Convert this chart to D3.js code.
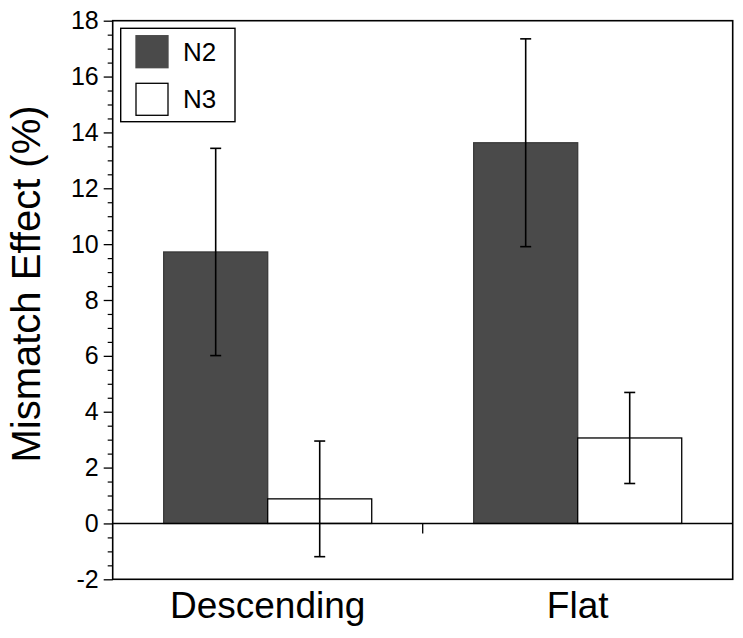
<!DOCTYPE html>
<html>
<head>
<meta charset="utf-8">
<script src="https://cdn.jsdelivr.net/npm/d3@7"></script>
<style>
  body { margin: 0; background: #fff; }
  svg { display: block; }
  text { font-family: "Liberation Sans", Arial, Helvetica, sans-serif; fill: #000; }
</style>
</head>
<body>
<svg id="chart" width="743" height="638"></svg>
<script>
const categories = ["Descending", "Flat"];
const seriesNames = ["N2", "N3"];
const n2Values = [9.72, 13.63];
const n2Errors = [3.71, 3.72];
const n3Values = [0.88, 3.06];
const n3Errors = [2.07, 1.63];
const yTicks = [-2, 0, 2, 4, 6, 8, 10, 12, 14, 16, 18];
const seriesColors = ["#4a4a4a", "#ffffff"];

const svg = d3.select("#chart");
const pLeft = 112.7, pRight = 732.7, pTop = 20.7, pBottom = 579.3;

const x0 = d3.scaleBand().domain(categories).range([pLeft, pRight]).padding(0);
const x1 = d3.scaleBand().domain(seriesNames).range([0, x0.bandwidth()])
  .paddingInner(0).paddingOuter(0.49);
const y = d3.scaleLinear().domain([-2, 18]).range([pBottom, pTop]);

const data = [];
categories.forEach((c, i) => {
  data.push({cat: c, s: "N2", v: n2Values[i], e: n2Errors[i]});
  data.push({cat: c, s: "N3", v: n3Values[i], e: n3Errors[i]});
});
const color = d3.scaleOrdinal().domain(seriesNames).range(seriesColors);

// bars
svg.append("g").selectAll("rect").data(data).join("rect")
  .attr("x", d => x0(d.cat) + x1(d.s))
  .attr("width", x1.bandwidth())
  .attr("y", d => y(Math.max(0, d.v)))
  .attr("height", d => Math.abs(y(d.v) - y(0)))
  .attr("fill", d => color(d.s))
  .attr("stroke", d => d.s === "N3" ? "#000" : "#3a3a3a")
  .attr("stroke-width", 1.3);

// zero line
svg.append("line")
  .attr("x1", pLeft).attr("x2", pRight)
  .attr("y1", y(0)).attr("y2", y(0))
  .attr("stroke", "#000").attr("stroke-width", 1.5);

// category boundary tick
svg.append("line")
  .attr("x1", x0(categories[1])).attr("x2", x0(categories[1]))
  .attr("y1", y(0)).attr("y2", y(0) + 10)
  .attr("stroke", "#000").attr("stroke-width", 1.3);

// error bars
const eb = svg.append("g").selectAll("g").data(data).join("g")
  .attr("stroke", "#000").attr("stroke-width", 1.6);
const cx = d => x0(d.cat) + x1(d.s) + x1.bandwidth() / 2;
eb.append("line")
  .attr("x1", cx).attr("x2", cx)
  .attr("y1", d => y(d.v + d.e)).attr("y2", d => y(d.v - d.e));
eb.append("line")
  .attr("x1", d => cx(d) - 5.5).attr("x2", d => cx(d) + 5.5)
  .attr("y1", d => y(d.v + d.e)).attr("y2", d => y(d.v + d.e));
eb.append("line")
  .attr("x1", d => cx(d) - 5.5).attr("x2", d => cx(d) + 5.5)
  .attr("y1", d => y(d.v - d.e)).attr("y2", d => y(d.v - d.e));

// minor ticks
const minor = d3.range(-2, 18.01, 0.5).filter(v => !yTicks.includes(v));
svg.append("g").attr("transform", `translate(${pLeft},0)`)
  .call(d3.axisLeft(y).tickValues(minor).tickSize(5).tickFormat(""))
  .call(g => g.select(".domain").remove())
  .call(g => g.selectAll("line").attr("stroke-width", 1.2));

// y axis
svg.append("g").attr("transform", `translate(${pLeft},0)`)
  .call(d3.axisLeft(y).tickValues(yTicks).tickSize(9).tickPadding(5).tickSizeOuter(0).tickFormat(d => String(d)))
  .call(g => g.select(".domain").remove())
  .call(g => g.selectAll("line").attr("stroke-width", 1.3))
  .call(g => g.selectAll("text").attr("font-size", 25).attr("font-family", '"Liberation Sans", Arial, sans-serif').attr("fill", "#000"));

// frame
svg.append("rect")
  .attr("x", pLeft).attr("y", pTop)
  .attr("width", pRight - pLeft).attr("height", pBottom - pTop)
  .attr("fill", "none").attr("stroke", "#000").attr("stroke-width", 1.6);

// category labels
svg.append("g").selectAll("text").data(categories).join("text")
  .attr("x", d => x0(d) + x0.bandwidth() / 2)
  .attr("y", 618)
  .attr("text-anchor", "middle")
  .attr("font-size", 37)
  .text(d => d);

// y title
svg.append("text")
  .attr("transform", `translate(40,284) rotate(-90)`)
  .attr("text-anchor", "middle")
  .attr("font-size", 40)
  .text("Mismatch Effect (%)");

// legend
const lg = svg.append("g");
lg.append("rect").attr("x", 120.7).attr("y", 28.3).attr("width", 114.3).attr("height", 93.4)
  .attr("fill", "#fff").attr("stroke", "#000").attr("stroke-width", 1.4);
const items = lg.selectAll("g.item").data(seriesNames).join("g").attr("class", "item")
  .attr("transform", (d, i) => `translate(136,${35.7 + i * 47.6})`);
items.append("rect").attr("width", 32).attr("height", 32)
  .attr("fill", d => color(d))
  .attr("stroke", d => d === "N3" ? "#000" : "#4a4a4a").attr("stroke-width", 1.3);
items.append("text").attr("x", 47).attr("y", 25).attr("font-size", 26).text(d => d);
</script>
</body>
</html>
